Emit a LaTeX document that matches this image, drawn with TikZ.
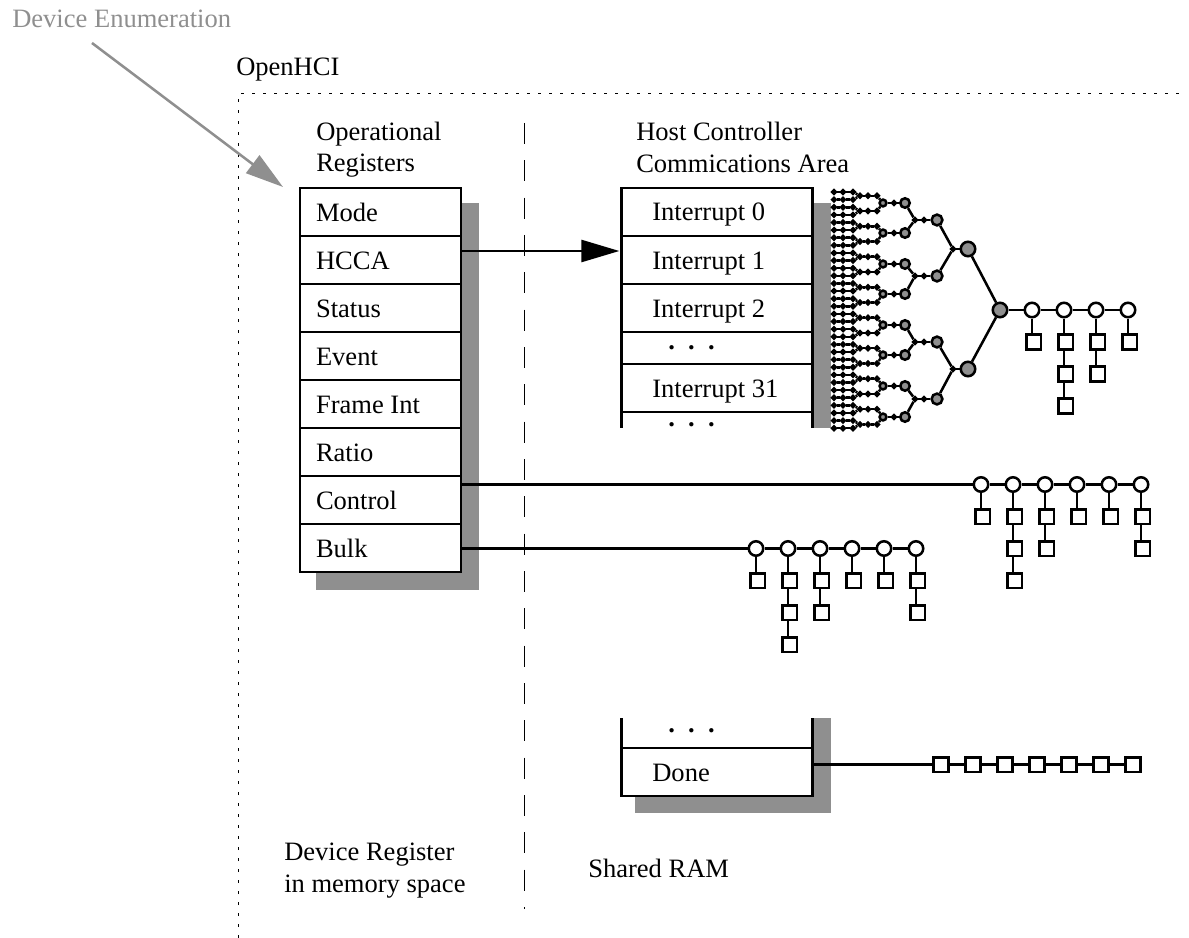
\documentclass[tikz,border=0pt]{standalone}
\usepackage{fontspec}
\setmainfont{Liberation Serif}
\usetikzlibrary{arrows.meta}
\definecolor{shadowgray}{gray}{0.56}
\tikzset{
  label/.style={inner sep=0pt, anchor=base west, align=flush left},
  regrow/.style={draw, line width=1.9pt, inner ysep=0pt, inner xsep=12pt, outer sep=0pt,
    text width=96.75pt, align=flush left, text height=25.25pt, text depth=10.75pt},
  introw/.style={draw, line width=1.9pt, inner ysep=0pt, inner xsep=23.25pt, outer sep=0pt,
    text width=97pt, align=flush left, text height=24.75pt, text depth=11.25pt},
  openrow/.style={introw, draw=none},
  treeline/.style={line width=1.9pt},
  dotnode/.style={circle, draw, line width=1.9pt, fill=shadowgray, inner sep=0pt, minimum size=2.7pt},
  fivenode/.style={dotnode, minimum size=5.1pt},
  fournode/.style={dotnode, minimum size=7.1pt},
  threenode/.style={dotnode, minimum size=8.1pt},
  twonode/.style={dotnode, minimum size=10.85pt},
  edcirc/.style={dotnode, fill=white, minimum size=10.85pt},
  tdsquare/.style={draw, line width=1.9pt, fill=white, inner sep=0pt, minimum size=10.9pt},
  enumarrow/.style={line width=1.9pt, shadowgray, -{Triangle[length=28.5pt,width=16.5pt]}},
  hccaarrow/.style={line width=1.9pt, -{Triangle[length=28.5pt,width=16.5pt]}, shorten >=1.5pt}
}
\newcommand{\threedots}{\hspace*{12pt}\bfseries .\ \ .\ \ .}
% one list: circles in a row, each with its column of squares
\newcommand{\tdlist}[4]{%
  \foreach \cnt [count=\i from 0] in {#4} {
    \pgfmathsetmacro\cx{#2+32*\i}
    \node[edcirc] (#1\i) at (\cx,#3) {};
    \ifnum\i>0
      \pgfmathtruncatemacro\p{\i-1}
      \draw[treeline] (#1\p) -- (#1\i);
    \fi
    \foreach \j in {1,...,\cnt} {
      \pgfmathsetmacro\sy{#3+32*\j}
      \pgfmathtruncatemacro\q{\j-1}
      \node[tdsquare] (#1\i s\j) at (\cx+1.5,\sy) {};
      \ifnum\j=1
        \draw[treeline] (#1\i) -- (#1\i |- #1\i s\j.north);
      \else
        \draw[treeline] (#1\i |- #1\i s\q.south) -- (#1\i |- #1\i s\j.north);
      \fi
    }
  }
}
\begin{document}
\begin{tikzpicture}[x=0.75pt, y=-0.75pt, font=\fontsize{19.9}{24}\selectfont]
  \useasboundingbox (0,0) rectangle (1189,938);

  % Boundary lines
  \draw[line width=0.75pt, dash pattern=on 2.5pt off 5.75pt] (238,938) -- (238,94) -- (1186,94);
  \draw[line width=0.75pt, dash pattern=on 15.75pt off 12.25pt] (524,123) -- (524,908.5);

  % Shadows
  \fill[shadowgray] (461,203) rectangle (479,590);
  \fill[shadowgray] (316,572) rectangle (479,590);
  \fill[shadowgray] (813,203) rectangle (831,428);
  \fill[shadowgray] (813,718) rectangle (831,813);
  \fill[shadowgray] (635,796) rectangle (831,813);

  % Labels
  \node[label, text=shadowgray] (enum) at (12,28) {Device Enumeration};
  \node[label] (ohci) at (236,76) {OpenHCI};
  \node[label] (opreg) at (316,172) {Operational\\Registers};
  \node[label] (hcarea) at (636,173) {Host Controller\\Commications Area};
  \node[label] (devreg) at (284,892) {Device Register\\in memory space};
  \node[label] (shram) at (588,877) {Shared RAM};

  % Operational registers
  \foreach \name/\txt [count=\i from 0] in {mode/Mode, hcca/HCCA, status/Status, event/Event,
      frame/Frame Int, ratio/Ratio, control/Control, bulk/Bulk} {
    \node[regrow] (\name) at (380.5,{212+48*\i}) {\txt};
  }

  % Host controller communications area
  \node[introw] (int0) at (717,212) {Interrupt 0};
  \node[introw] (int1) at (717,260) {Interrupt 1};
  \node[introw] (int2) at (717,308) {Interrupt 2};
  \node[openrow, text height=12.75pt, text depth=11.25pt] (intd) at (717,348) {\threedots};
  \node[introw] (int31) at (717,388) {Interrupt 31};
  \node[openrow, text height=10.5pt, text depth=1.5pt] (inte) at (717,420) {\threedots};
  \draw[treeline] (intd.north west) -- (intd.south west);
  \draw[treeline] (intd.north east) -- (intd.south east);
  \draw[treeline] (inte.north west) -- (inte.south west);
  \draw[treeline] (inte.north east) -- (inte.south east);

  % Done queue
  \node[openrow, text height=10.5pt, text depth=12pt] (doned) at (717,733) {\threedots};
  \node[introw] (done) at (717,772) {Done};
  \draw[treeline] (doned.north west) -- (doned.south west);
  \draw[treeline] (doned.north east) -- (doned.south east);

  % Interrupt tree, from the leaves to the root
  \foreach \i in {0,...,31} {
    \pgfmathsetmacro\ly{192+7.62*\i}
    \node[dotnode] (la\i) at (834,\ly) {};
    \node[dotnode] (lb\i) at (843,\ly) {};
    \node[dotnode] (lc\i) at (853,\ly) {};
    \draw[treeline] (la\i) -- (lb\i) -- (lc\i);
  }
  \foreach \i in {0,...,15} {
    \pgfmathsetmacro\my{195.8+15.24*\i}
    \pgfmathtruncatemacro\j{2*\i}
    \pgfmathtruncatemacro\k{2*\i+1}
    \node[dotnode] (ma\i) at (860,\my) {};
    \node[dotnode] (mb\i) at (868,\my) {};
    \node[dotnode] (mc\i) at (877,\my) {};
    \draw[treeline] (lc\j) -- (ma\i);
    \draw[treeline] (lc\k) -- (ma\i);
    \draw[treeline] (ma\i) -- (mb\i) -- (mc\i);
  }
  \foreach \i/\y in {0/203,1/233,2/264,3/294,4/325,5/355,6/386,7/417} {
    \pgfmathtruncatemacro\j{2*\i}
    \pgfmathtruncatemacro\k{2*\i+1}
    \node[fivenode] (five\i) at (883,\y) {};
    \node[dotnode] (tick\i) at (894,\y) {};
    \node[fournode] (four\i) at (905,\y) {};
    \draw[treeline] (mc\j) -- (five\i);
    \draw[treeline] (mc\k) -- (five\i);
    \draw[treeline] (five\i) -- (tick\i) -- (four\i);
  }
  \foreach \i/\y in {0/220,1/276,2/342,3/399} {
    \pgfmathtruncatemacro\j{2*\i}
    \pgfmathtruncatemacro\k{2*\i+1}
    \node[dotnode] (jun\i) at (915,\y) {};
    \node[dotnode] (tock\i) at (924,\y) {};
    \node[threenode] (three\i) at (937,\y) {};
    \draw[treeline] (four\j) -- (jun\i);
    \draw[treeline] (four\k) -- (jun\i);
    \draw[treeline] (jun\i) -- (tock\i) -- (three\i);
  }
  \foreach \i/\y in {0/249,1/369} {
    \pgfmathtruncatemacro\j{2*\i}
    \pgfmathtruncatemacro\k{2*\i+1}
    \node[dotnode] (knot\i) at (953,\y) {};
    \node[twonode] (two\i) at (968,\y) {};
    \draw[treeline] (three\j) -- (knot\i);
    \draw[treeline] (three\k) -- (knot\i);
    \draw[treeline] (knot\i) -- (two\i);
  }
  \node[twonode] (root) at (1000,310) {};
  \draw[treeline] (two0) -- (root);
  \draw[treeline] (two1) -- (root);

  % Endpoint lists
  \tdlist{ed}{1032}{310}{1,3,2,1}
  \tdlist{ctl}{981}{484.5}{1,3,2,1,1,2}
  \tdlist{blk}{756}{548.5}{1,3,2,1,1,2}
  \draw[treeline] (root) -- (ed0);
  \draw[treeline] (control.east |- ctl0) -- (ctl0);
  \draw[treeline] (bulk.east |- blk0) -- (blk0);

  % Done list
  \foreach \i in {0,...,6} {
    \node[tdsquare] (dn\i) at ({941+32*\i},764.5) {};
  }
  \foreach \i [remember=\i as \p (initially 0)] in {1,...,6} {
    \draw[treeline] (dn\p) -- (dn\i);
  }
  \draw[treeline] (done.east |- dn0) -- (dn0);

  % Arrows
  \draw[hccaarrow] ([yshift=6.75pt]hcca.east) -- ([yshift=6.75pt]int1.west);
  \draw[enumarrow] (92,43) -- (283,187);
\end{tikzpicture}
\end{document}
